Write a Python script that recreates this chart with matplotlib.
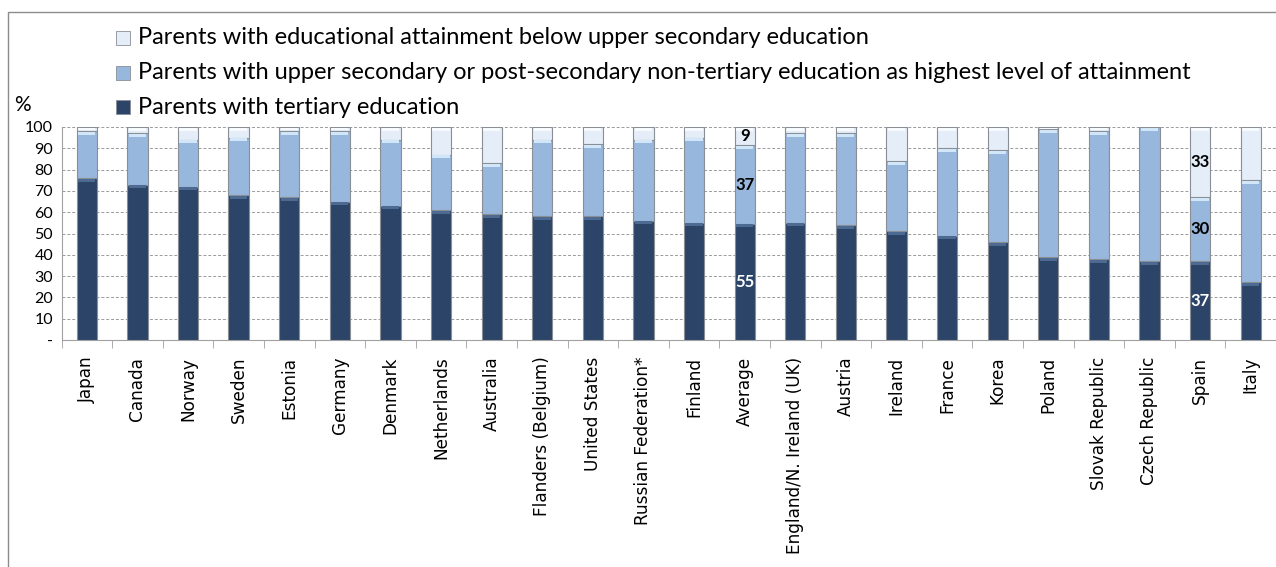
import matplotlib.pyplot as plt
from matplotlib.patches import Rectangle

# Datos
paises = ["Japan", "Canada", "Norway", "Sweden", "Estonia", "Germany", "Denmark",
          "Netherlands", "Australia", "Flanders (Belgium)", "United States",
          "Russian Federation*", "Finland", "Average", "England/N. Ireland (UK)",
          "Austria", "Ireland", "France", "Korea", "Poland", "Slovak Republic",
          "Czech Republic", "Spain", "Italy"]
terciaria = [76, 73, 72, 68, 67, 65, 63, 61, 59, 58, 58, 56, 55, 54.6, 55, 54, 51,
             49, 46, 39, 38, 37, 37, 27]
secundaria = [22, 24, 22, 27, 31, 33, 31, 26, 24, 36, 34, 38, 40, 36.8, 42, 43, 33,
              41, 43, 60, 60, 63, 30, 48]
inferior = [2, 3, 6, 5, 2, 2, 6, 13, 17, 6, 8, 6, 5, 8.6, 3, 3, 16, 10, 11, 1, 2,
            0, 33, 25]
etiquetados = ["Average", "Spain"]

leyenda = ["Parents with educational attainment below upper secondary education",
           "Parents with upper secondary or post-secondary non-tertiary education as highest level of attainment",
           "Parents with tertiary education"]

c_osc = '#2b4468'
c_med = '#98b7dc'
c_cla = '#e4edf8'
borde = '#8a8f96'

fig = plt.figure(figsize=(12.76, 5.67), dpi=100)
ax = fig.add_axes([61.5 / 1276, 1 - 340 / 567, 1 - 61.5 / 1276, 213 / 567])

x = list(range(len(paises)))
base2 = [a + b for a, b in zip(terciaria, secundaria)]
tops = [100] * len(paises)
ax.bar(x, terciaria, width=0.4, color=c_osc, edgecolor=borde, linewidth=0.8, zorder=3)
ax.bar(x, secundaria, width=0.4, bottom=terciaria, color=c_med, edgecolor=borde,
       linewidth=0.8, zorder=3)
ax.bar(x, inferior, width=0.4, bottom=base2, color=c_cla, edgecolor=borde,
       linewidth=0.8, zorder=3)

# Brillo en la parte superior de cada tramo (efecto bisel)
for serie, techo, col in [(terciaria, terciaria, '#4d6b92'),
                          (secundaria, base2, '#d2e6fa'),
                          (inferior, tops, '#f7fbff')]:
    alto = [min(1.4, v * 0.5) for v in serie]
    ax.bar(x, alto, width=0.34, bottom=[t - 0.3 - h for t, h in zip(techo, alto)],
           color=col, linewidth=0, zorder=3.5)

# Etiquetas de datos
for i, p in enumerate(paises):
    if p in etiquetados:
        ax.text(i, terciaria[i] / 2, f"{terciaria[i]:.0f}", ha='center', va='center',
                color='white', fontsize=12, fontweight='bold', family='Lato', zorder=4)
        ax.text(i, terciaria[i] + secundaria[i] / 2, f"{secundaria[i]:.0f}",
                ha='center', va='center', color='black', fontsize=12,
                fontweight='bold', family='Lato', zorder=4)
        ax.text(i, base2[i] + inferior[i] / 2, f"{inferior[i]:.0f}", ha='center',
                va='center', color='black', fontsize=12, fontweight='bold',
                family='Lato', zorder=4)

ax.set_ylim(0, 100)
ax.set_xlim(-0.5, 23.35)
ax.set_yticks(range(0, 101, 10))
ax.set_yticklabels(['-'] + [str(v) for v in range(10, 101, 10)], family='Lato',
                   fontsize=11.5)
ax.set_xticks(x)
ax.set_xticklabels(paises, rotation=90, family='DejaVu Sans', fontsize=12.2)
ax.set_xticks([i - 0.5 for i in range(len(paises) + 1)], minor=True)
ax.tick_params(axis='x', which='major', length=0, pad=12)
ax.tick_params(axis='x', which='minor', length=6, color='#a0a0a0')
ax.tick_params(axis='y', length=0, pad=6)
ax.grid(axis='y', linestyle=(0, (3, 2)), color='#9a9a9a', linewidth=0.7, zorder=0)
for s in ['top', 'right']:
    ax.spines[s].set_visible(False)
ax.spines['left'].set_color('#a0a0a0')
ax.spines['bottom'].set_color('#a0a0a0')

fig.text(22 / 1276, 1 - 105 / 567, '%', family='Lato', fontsize=15, ha='center',
         va='center')

# Leyenda manual
colores = [c_cla, c_med, c_osc]
for k, (txt, col) in enumerate(zip(leyenda, colores)):
    yc = 1 - (38 + 34.5 * k) / 567
    fig.patches.append(Rectangle((116 / 1276, yc - 7 / 567), 14 / 1276, 14 / 567,
                                 transform=fig.transFigure, facecolor=col,
                                 edgecolor=borde, linewidth=0.6))
    fig.text(138 / 1276, yc, txt, family='Lato', fontsize=17, va='center')

# Marco
fig.patches.append(Rectangle((8 / 1276, -0.1), 1.2, 1 - 12 / 567 + 0.1,
                             transform=fig.transFigure, fill=False,
                             edgecolor='#8c8c8c', linewidth=1))

fig.savefig('out.png', dpi=100)
